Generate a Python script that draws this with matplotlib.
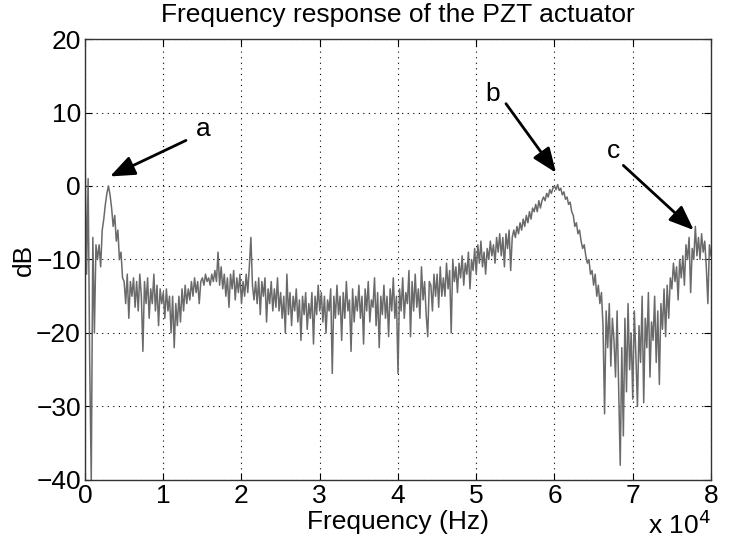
import numpy as np
import matplotlib
matplotlib.use('Agg')
import matplotlib.pyplot as plt

plt.rcParams['font.family'] = ['Liberation Sans', 'DejaVu Sans']

# magnitude (dB), one value every 200 Hz from 0 to 80 kHz
freq_step = 200
db = [
    5, -12, 1, -24, -40, -7, -20, -8, -10, -8, -11, -6, -4.5, -2.5, -1, 0, -1.2, -3, -5.5, -4, -7.5, -6, -10, -9, -12.5,
    -13, -16, -12, -18, -13, -15, -12.5, -16.5, -13, -17, -12, -15, -22.5, -13, -16, -12.5, -18, -14, -16, -12, -17, -13.5, -19, -14, -16,
    -14.5, -18, -14, -17, -15, -20, -15, -22, -16, -19, -15, -18.5, -14, -17, -13.5, -16, -14, -15.5, -13, -15, -12.5, -14.5, -13, -16, -13,
    -12.5, -13.5, -12, -13, -12.5, -13.5, -12, -13, -11.5, -13, -9, -13.5, -11, -14, -12, -15, -12.5, -16.5, -12, -14, -11.5, -15.5, -12.5, -14.5, -12,
    -16, -13, -15, -12, -14.5, -11, -7, -13.5, -15.5, -13, -16, -12.5, -17.5, -13, -15, -12.5, -18.5, -14, -16, -13, -17, -14, -16.5, -12.5, -17,
    -14.5, -18, -15, -20, -12, -17.5, -14.5, -19, -15, -17, -14, -18.5, -15.5, -21, -15, -17.5, -14.5, -19.5, -16, -18, -14.5, -21.5, -15, -17.5, -13.5,
    -17, -14.5, -18.5, -15, -20, -15.5, -17, -14, -25.5, -15, -18, -13.5, -17.5, -15, -21, -14.5, -18, -13, -17, -15.5, -22.5, -14, -18.5, -15, -17,
    -13.5, -18, -15, -21.5, -14, -17, -13, -18.5, -15.5, -16.5, -12.5, -19, -14.5, -22, -15, -17.5, -13.5, -18, -15, -20.5, -14, -17, -12.5, -18, -15,
    -25.5, -14, -17, -12.5, -18, -14.5, -16, -11.5, -20.5, -13, -17, -12, -16.5, -14, -18, -11, -15.5, -13, -17.5, -20.5, -13, -13.5, -17, -12, -15,
    -12, -16.5, -11, -15, -12.5, -15, -10.5, -14, -11.5, -20, -10, -13, -11, -14.5, -10.5, -12.5, -9.5, -13.5, -10.5, -12, -9, -14, -10, -11.5, -8.5,
    -12, -8, -10.5, -7.5, -11, -9, -12, -8.5, -10, -7.5, -9.5, -8, -10.5, -7, -9, -6.5, -9.5, -7, -11, -6.5, -8.5, -6, -11.5, -7, -6,
    -7, -5.5, -6.5, -5, -6, -4.5, -5.5, -4, -5, -3.5, -4.5, -3, -3.5, -2.5, -3.5, -2, -3, -2, -1.5, -2, -1, -1.5, -0.5, -1, -0.3,
    0, -0.5, 0.2, -0.6, -0.3, -1.2, -0.8, -1.8, -1.5, -2.5, -2.2, -3.5, -4, -5.5, -5, -6.5, -6, -7.5, -8.5, -8, -9.5, -10.5, -10, -12, -11.5,
    -13.5, -12, -15, -13.5, -16, -14.5, -19, -31, -17, -22, -16, -24.5, -18, -21, -26, -17, -27.5, -38, -22, -34, -18, -28, -16, -25, -20,
    -29, -17, -23, -30, -19, -24, -15, -29.5, -18, -22, -14.5, -26, -18.5, -21, -15, -24, -17, -27, -16, -19.5, -14, -20.5, -13.5, -18, -12.5,
    -14, -10.5, -13, -11, -15.5, -10, -12.5, -9.5, -13.5, -8, -10, -7, -14.5, -8.5, -10, -5.5, -9.5, -7, -10, -6.5, -9, -7.5, -11, -16, -8,
    -9.5,
]
freq = np.arange(len(db)) * freq_step

# annotation labels: (label, text pos, arrow tail, arrow tip) in (Hz, dB)
labels = ['a', 'b', 'c']
text_pos = [(15100, 7.8), (52100, 12.5), (67500, 4.7)]
arrow_tail = [(12900, 6.2), (53800, 11.2), (68800, 2.8)]
arrow_tip = [(3200, 1.3), (60200, 1.8), (77800, -6.0)]

fig = plt.figure(figsize=(7.29, 5.51), dpi=100)
ax = fig.add_axes([0.1166, 0.1289, 0.8587, 0.8003])

ax.plot(freq, db, color='#6a6a6a', linewidth=1.1)

for lab, tp, tail, tip in zip(labels, text_pos, arrow_tail, arrow_tip):
    ax.annotate('', xy=tip, xytext=tail,
                arrowprops=dict(arrowstyle='-|>,head_length=0.5,head_width=0.2',
                                color='black', lw=2, mutation_scale=30,
                                shrinkA=0, shrinkB=0))
    ax.text(tp[0], tp[1], lab, fontsize=19, ha='center', va='center')

ax.set_xlim(0, 80000)
ax.set_ylim(-40, 20)
ax.set_xticks(np.arange(0, 80001, 10000))
ax.set_xticklabels([str(i) for i in range(9)])
ax.set_yticks(np.arange(-40, 21, 10))
ax.set_yticklabels(['\u221240', '\u221230', '\u221220', '\u221210', '0', '10', '20'])
ax.tick_params(direction='in', top=True, right=True, labelsize=19, length=5, width=0.8, pad=3)
ax.grid(True, color='black', linestyle=(0, (1, 4)), linewidth=0.8)
for s in ax.spines.values():
    s.set_linewidth(1.0)
    s.set_color('#333333')

ax.set_title('Frequency response of the PZT actuator', fontsize=19, pad=12)
ax.set_xlabel('Frequency (Hz)', fontsize=19, labelpad=1)
ax.set_ylabel('dB', fontsize=19, labelpad=0)
ax.text(1.0, -0.07, 'x 10$^4$', transform=ax.transAxes, fontsize=19,
        ha='right', va='top')

fig.savefig('out.png', dpi=100)
